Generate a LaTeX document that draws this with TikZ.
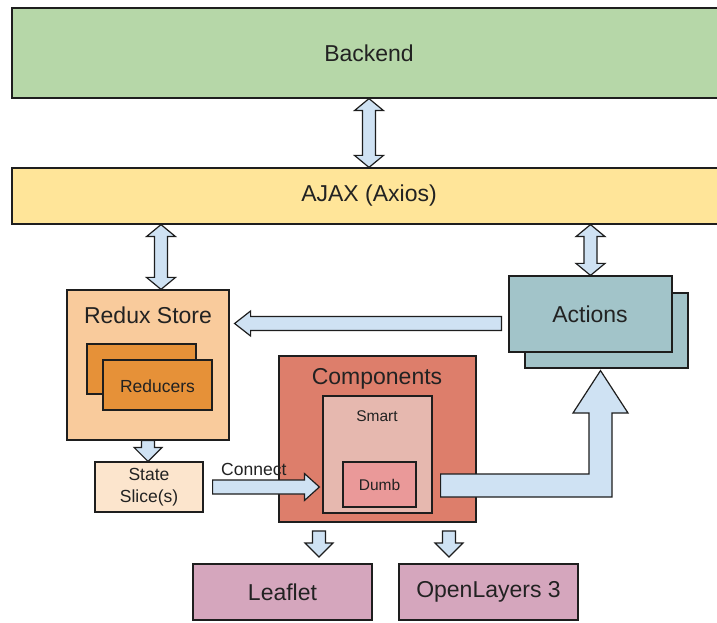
\documentclass[tikz,border=0pt]{standalone}
\usepackage{fontspec}
\setmainfont{Liberation Sans}
\usetikzlibrary{calc}
\definecolor{cBack}{HTML}{B6D7A8}
\definecolor{cAjax}{HTML}{FFE599}
\definecolor{cRedux}{HTML}{F9CB9C}
\definecolor{cRed}{HTML}{E69138}
\definecolor{cState}{HTML}{FCE5CD}
\definecolor{cComp}{HTML}{DD7E6B}
\definecolor{cSmart}{HTML}{E6B8AF}
\definecolor{cDumb}{HTML}{EA9999}
\definecolor{cAct}{HTML}{A2C4C9}
\definecolor{cLib}{HTML}{D5A6BD}
\definecolor{cArr}{HTML}{CFE2F3}
\definecolor{cLine}{HTML}{1E1E1E}
\definecolor{cText}{HTML}{222222}
\newcommand\dblarrow[2]{\draw[blk] (#1) -- ++(14.5,-12) -- ++(-8,0) -- ($(#2)+(6.5,12)$) -- ++(8,0) -- (#2) -- ++(-14.5,12) -- ++(8,0) -- ($(#1)+(-6.5,-12)$) -- ++(-8,0) -- cycle;}
\newcommand\dnarrow[2]{\draw[blk] ($(#1)+(-6.5,0)$) -- ($(#1)+(6.5,0)$) -- ($(#2)+(6.5,14)$) -- ++(7.5,0) -- (#2) -- ++(-14,14) -- ++(7.5,0) -- cycle;}
\begin{document}
\begin{tikzpicture}[x=1pt,y=1pt,
  box/.style={draw=cLine, line width=1.2pt, rectangle, inner sep=0pt},
  blk/.style={draw=cLine, line width=1.2pt, fill=cArr, line join=miter},
  big/.style={text=cText, font=\fontsize{23}{27}\selectfont, inner sep=0pt},
  mid/.style={text=cText, font=\fontsize{17.5}{22}\selectfont, inner sep=0pt, align=center},
  sml/.style={text=cText, font=\fontsize{15.5}{19}\selectfont, inner sep=0pt}]
\useasboundingbox (0,0) rectangle (717,622);
\fill[white] (0,0) rectangle (717,622);
% boxes
\node[box, fill=cBack, minimum width=714, minimum height=90] (backend) at (369,569) {};
\node[big] (backendt) at (369,569) {Backend};
\node[box, fill=cAjax, minimum width=714, minimum height=56] (ajax) at (369,426) {};
\node[big] (ajaxt) at (369,426) {AJAX (Axios)};
\node[box, fill=cRedux, minimum width=162, minimum height=150] (redux) at (148,257) {};
\node[big] (reduxt) at (148,307) {Redux Store};
\node[box, fill=cRed, minimum width=109, minimum height=50] (redb) at (141.5,253) {};
\node[box, fill=cRed, minimum width=109, minimum height=50] (redf) at (157.5,237) {};
\node[mid] (redt) at (157.5,236) {Reducers};
\node[box, fill=cState, minimum width=108, minimum height=50] (state) at (149,135) {};
\node[mid] (statet) at (149,135) {State\\Slice(s)};
\node[box, fill=cComp, minimum width=197, minimum height=166] (comp) at (377.5,183) {};
\node[big] (compt) at (377,243) {Components};
\node[box, fill=cSmart, minimum width=109, minimum height=117] (smart) at (377.5,167.5) {};
\node[sml] (smartt) at (377,206) {Smart};
\node[box, fill=cDumb, minimum width=73, minimum height=45] (dumb) at (379.5,137.5) {};
\node[sml] (dumbt) at (379.5,137) {Dumb};
\node[box, fill=cAct, minimum width=163, minimum height=75] (actb) at (606.5,291.5) {};
\node[box, fill=cAct, minimum width=163, minimum height=76] (actf) at (590.5,308) {};
\node[big] (actt) at (590,308) {Actions};
\node[box, fill=cLib, minimum width=179, minimum height=56] (leaflet) at (282.5,30) {};
\node[big] (leaflett) at (282.5,30) {Leaflet};
\node[box, fill=cLib, minimum width=179, minimum height=56] (ol) at (488.5,30) {};
\node[big] (olt) at (488.5,30) {OpenLayers 3};
% connectors
\dblarrow{backend.south}{ajax.north}
\coordinate (r1) at ($(redux.north)+(13,0)$);
\coordinate (r0) at (ajax.south -| r1);
\dblarrow{r0}{r1}
\coordinate (a0) at (ajax.south -| actf.north);
\dblarrow{a0}{actf.north}
\coordinate (s1) at (redux.south |- state.north);
\dnarrow{redux.south}{s1}
\coordinate (l0) at (319,91);
\coordinate (l1) at (319,65);
\dnarrow{l0}{l1}
\coordinate (o0) at (449,91);
\coordinate (o1) at (449,65);
\dnarrow{o0}{o1}
% Actions -> Redux
\coordinate (rtip) at ($(redux.east)+(5,41.5)$);
\coordinate (ract) at ($(actf.west)+(-7,-9.5)$);
\draw[blk] (rtip) -- ++(16,12.5) -- ++(0,-5.5) -- ($(ract |- rtip)+(0,7)$) -- ++(0,-14) -- ($(rtip)+(16,-7)$) -- ++(0,-5.5) -- cycle;
% Connect
\coordinate (c0) at ($(state.east)+(9,0)$);
\coordinate (c1) at ($(smart.west |- c0)+(-3,0)$);
\draw[blk] ($(c0)+(0,7)$) -- ($(c1)+(-15,7)$) -- ++(0,6.5) -- (c1) -- ++(-15,-13.5) -- ++(0,6.5) -- ($(c0)+(0,-7)$) -- cycle;
\node[mid, anchor=west] (conn) at (221,153) {Connect};
% Dumb -> Actions
\coordinate (d0) at ($(smart.east)+(8,0)$);
\coordinate (d1) at ($(actb.south)+(-6,-2)$);
\draw[blk] (d0 |- 0,148) -- (589,148) -- (589,209) -- (573,209) -- (d1) -- (628,209) -- (612,209) -- (612,125) -- (d0 |- 0,125) -- cycle;
\end{tikzpicture}
\end{document}
